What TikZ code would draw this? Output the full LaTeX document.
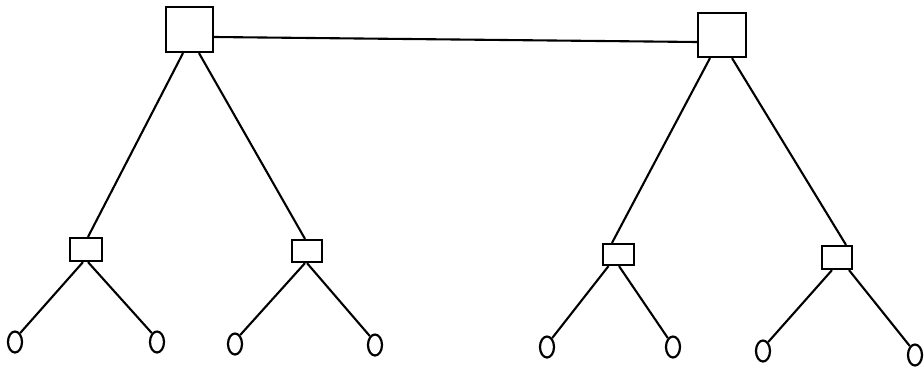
\documentclass[tikz,border=0pt]{standalone}
\usetikzlibrary{shapes.geometric}
\begin{document}
\begin{tikzpicture}[x=1pt,y=-1pt,
  box/.style={draw,line width=2.2pt,rectangle,inner sep=0pt},
  leaf/.style={draw,line width=2.2pt,ellipse,inner sep=0pt,minimum width=14pt,minimum height=21pt},
  link/.style={line width=2.1pt}]
\useasboundingbox (0,0) rectangle (924,367);
% top squares
\node[box,minimum width=47pt,minimum height=45pt] (T1) at (189.5,29.5) {};
\node[box,minimum width=48pt,minimum height=44pt] (T2) at (722,35) {};
% small boxes
\node[box,minimum width=32pt,minimum height=23pt] (S1) at (86,249.5) {};
\node[box,minimum width=30pt,minimum height=22pt] (S2) at (307,251) {};
\node[box,minimum width=31pt,minimum height=21pt] (S3) at (618.5,254.5) {};
\node[box,minimum width=30pt,minimum height=23pt] (S4) at (837,257.5) {};
% leaves
\node[leaf] (L1) at (15,342) {};
\node[leaf] (L2) at (157,342) {};
\node[leaf] (L3) at (235,344) {};
\node[leaf] (L4) at (375,345) {};
\node[leaf] (L5) at (547,347) {};
\node[leaf] (L6) at (673,347) {};
\node[leaf] (L7) at (763,351) {};
\node[leaf] (L8) at (915,355) {};
% connectors
\draw[link] ([yshift=-7.5pt]T1.east) -- ([yshift=-7pt]T2.west);
\draw[link] ([xshift=-6.5pt]T1.south) -- ([xshift=2pt]S1.north);
\draw[link] ([xshift=9.5pt]T1.south) -- ([xshift=-2pt]S2.north);
\draw[link] ([xshift=-12pt]T2.south) -- ([xshift=-6.5pt]S3.north);
\draw[link] ([xshift=10pt]T2.south) -- ([xshift=9pt]S4.north);
\draw[link] ([xshift=-3pt]S1.south) -- (L1.60);
\draw[link] ([xshift=2pt]S1.south) -- (L2.120);
\draw[link] ([xshift=-2pt]S2.south) -- (L3.60);
\draw[link] ([xshift=0pt]S2.south) -- (L4.120);
\draw[link] ([xshift=-10pt]S3.south) -- (L5.60);
\draw[link] ([xshift=0.5pt]S3.south) -- (L6.120);
\draw[link] ([xshift=-5pt]S4.south) -- (L7.60);
\draw[link] ([xshift=12pt]S4.south) -- (L8.120);
\end{tikzpicture}
\end{document}
